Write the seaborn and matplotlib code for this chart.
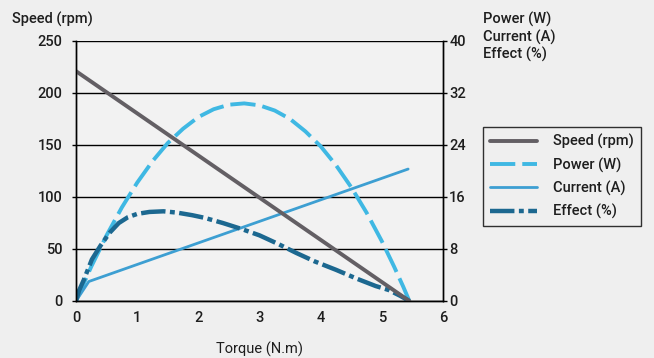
import matplotlib
matplotlib.use("Agg")
import matplotlib.pyplot as plt
import seaborn as sns
import pandas as pd

# Motor characteristic curves versus shaft torque
speed_torque = [0.0, 5.45]
speed_rpm = [221.0, 0.0]

power_torque = [0.0, 0.25, 0.5, 0.75, 1.0, 1.25, 1.5, 1.75, 2.0, 2.25, 2.5,
                2.75, 3.0, 3.25, 3.5, 3.75, 4.0, 4.25, 4.5, 4.75, 5.0, 5.2,
                5.35, 5.45]
power_w = [0.0, 5.3, 10.1, 14.4, 18.2, 21.5, 24.3, 26.5, 28.3, 29.5, 30.2,
           30.4, 30.1, 29.3, 28.0, 26.1, 23.8, 20.9, 17.5, 13.6, 9.2, 5.3,
           2.2, 0.0]

current_torque = [0.0, 0.21, 5.43]
current_a = [0.0, 3.0, 20.3]

effect_torque = [0.0, 0.05, 0.13, 0.26, 0.4, 0.55, 0.7, 0.85, 1.0, 1.2, 1.43,
                 1.65, 1.9, 2.1, 2.4, 2.7, 3.0, 3.3, 3.6, 3.9, 4.25, 4.6, 4.9,
                 5.11, 5.3, 5.45]
effect_pct = [0.0, 1.6, 3.3, 6.4, 8.5, 10.5, 12.0, 12.9, 13.4, 13.7, 13.8,
              13.6, 13.2, 12.8, 12.0, 11.1, 10.1, 8.8, 7.4, 6.1, 4.8, 3.4, 2.3,
              1.7, 0.8, 0.0]

x_ticks = [0, 1, 2, 3, 4, 5, 6]
left_ticks = [0, 50, 100, 150, 200, 250]
right_ticks = [0, 8, 16, 24, 32, 40]

C_SPEED = "#635f64"
C_POWER = "#3fb8e3"
C_CURRENT = "#3d9fd2"
C_EFFECT = "#1c6890"
BG = "#efefef"
TXT = "#1e1e1e"

sns.set_theme(style="white")
plt.rcParams["font.family"] = ["Roboto", "DejaVu Sans"]
plt.rcParams["font.weight"] = "medium"
FS = 10.5

fig = plt.figure(figsize=(6.54, 3.58), dpi=100, facecolor=BG)
ax = fig.add_axes([76 / 654, 1 - 301 / 358, (443 - 76) / 654, (301 - 41) / 358])
ax2 = ax.twinx()

# right axis sits underneath and carries the background and the grid
ax.set_zorder(2)
ax.patch.set_visible(False)
ax2.set_zorder(1)
ax2.patch.set_visible(True)
ax2.patch.set_facecolor("#f2f2f2")

df_p = pd.DataFrame({"t": power_torque, "v": power_w})
df_c = pd.DataFrame({"t": current_torque, "v": current_a})
df_e = pd.DataFrame({"t": effect_torque, "v": effect_pct})
df_s = pd.DataFrame({"t": speed_torque, "v": speed_rpm})

sns.lineplot(data=df_p, x="t", y="v", ax=ax2, color=C_POWER, linewidth=2.8,
             linestyle=(0, (6.5, 1.8)), errorbar=None, label="Power (W)")
sns.lineplot(data=df_c, x="t", y="v", ax=ax2, color=C_CURRENT, linewidth=2.0,
             errorbar=None, label="Current (A)")
sns.lineplot(data=df_e, x="t", y="v", ax=ax2, color=C_EFFECT, linewidth=3.2,
             linestyle=(0, (5.5, 1.0, 1.1, 1.0)), errorbar=None, label="Effect (%)")
sns.lineplot(data=df_s, x="t", y="v", ax=ax, color=C_SPEED, linewidth=2.8,
             errorbar=None, label="Speed (rpm)")

ax.set_xlim(0, 6)
ax.set_ylim(0, 250)
ax2.set_ylim(0, 40)
ax.set_xticks(x_ticks)
ax.set_yticks(left_ticks)
ax2.set_yticks(right_ticks)

ax2.grid(True, axis="y", color="black", linewidth=1.0)
ax2.set_axisbelow(True)

for a in (ax, ax2):
    a.spines["top"].set_visible(False)
    for side in ("left", "right", "bottom"):
        a.spines[side].set_color("black")
        a.spines[side].set_linewidth(1.0)

ax.tick_params(axis="x", direction="in", length=5, width=1, color="black",
               pad=7, labelsize=FS, labelcolor=TXT)
ax.tick_params(axis="y", direction="out", length=3, width=1, color="black",
               pad=7, labelsize=FS, labelcolor=TXT)
ax2.tick_params(axis="y", direction="out", length=3, width=1, color="black",
                pad=1.5, labelsize=FS, labelcolor=TXT)

ax.set_xlabel("Torque (N.m)", fontsize=FS, color=TXT, labelpad=12)
ax.set_ylabel("")
ax2.set_ylabel("")

fig.text(12 / 654, 1 - 19 / 358, "Speed (rpm)", fontsize=FS, color=TXT,
         ha="left", va="center")
fig.text(483 / 654, 1 - 12 / 358, "Power (W)\nCurrent (A)\nEffect (%)",
         fontsize=FS, color=TXT, ha="left", va="top", linespacing=1.2)

h1, l1 = ax.get_legend_handles_labels()
h2, l2 = ax2.get_legend_handles_labels()
for a in (ax, ax2):
    if a.get_legend() is not None:
        a.get_legend().remove()
leg = fig.legend(h1 + h2, l1 + l2, loc="upper left",
                 bbox_to_anchor=(483 / 654, 1 - 127 / 358), borderaxespad=0,
                 frameon=True, fancybox=False, fontsize=FS, handlelength=3.2,
                 handletextpad=1.1, labelspacing=0.55, borderpad=0.5)
leg.get_frame().set_edgecolor("black")
leg.get_frame().set_linewidth(1.0)
leg.get_frame().set_facecolor(BG)
for t in leg.get_texts():
    t.set_color(TXT)

fig.savefig("out.png", dpi=100, facecolor=BG)
